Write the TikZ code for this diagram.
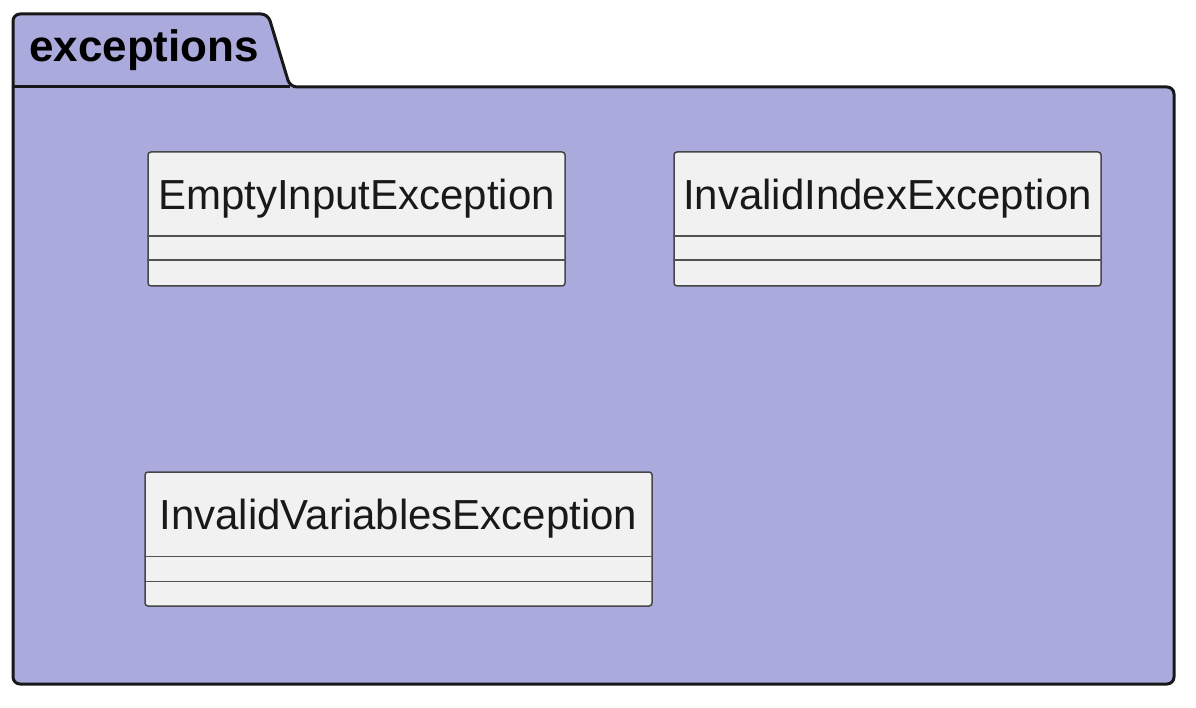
\documentclass[tikz,border=0pt]{standalone}
\usepackage{fontspec}
\setmainfont{Liberation Sans}
\usetikzlibrary{calc}
\definecolor{pkgfill}{RGB}{170,170,221}
\definecolor{classfill}{RGB}{241,241,241}
\definecolor{edge}{RGB}{24,24,24}
\tikzset{
  pkgline/.style={draw=edge, line width=3pt, line join=round},
  classbox/.style={draw=edge!80, fill=classfill, line width=1.5pt, rounded corners=3pt,
    rectangle, inner sep=0pt},
  classname/.style={font=\fontsize{42}{48}\selectfont, text=black!90, inner sep=0pt},
  sepline/.style={draw=edge!75, line width=1.5pt},
}
\begin{document}
\begin{tikzpicture}[x=1pt,y=-1pt]
\useasboundingbox (0,0) rectangle (1196,708);
% package outline with its tab
\path[pkgline, fill=pkgfill, rounded corners=7pt]
  (13,87) -- (13,14) -- (268,14) -- (290,87) -- (1174,87) -- (1174,684) -- (13,684) -- cycle;
\draw[pkgline] (13,87) -- (290,87);
\node[font=\bfseries\fontsize{44}{50}\selectfont, anchor=base west, inner sep=0pt] (pkgname) at (29,62) {exceptions};

% classes
\node[classbox, minimum width=417pt, minimum height=134pt] (c1) at (356.5,219) {};
\node[classname] (n1) at ($(c1.north)+(0,47)$) {EmptyInputException};
\draw[sepline] ($(c1.north west)+(0,85)$) -- ($(c1.north east)+(0,85)$);
\draw[sepline] ($(c1.north west)+(0,109)$) -- ($(c1.north east)+(0,109)$);

\node[classbox, minimum width=427pt, minimum height=134pt] (c2) at (887.5,219) {};
\node[classname] (n2) at ($(c2.north)+(0,47)$) {InvalidIndexException};
\draw[sepline] ($(c2.north west)+(0,85)$) -- ($(c2.north east)+(0,85)$);
\draw[sepline] ($(c2.north west)+(0,109)$) -- ($(c2.north east)+(0,109)$);

\node[classbox, minimum width=507pt, minimum height=134pt] (c3) at (398.5,539) {};
\node[classname] (n3) at ($(c3.north)+(0,47)$) {InvalidVariablesException};
\draw[sepline] ($(c3.north west)+(0,85)$) -- ($(c3.north east)+(0,85)$);
\draw[sepline] ($(c3.north west)+(0,110)$) -- ($(c3.north east)+(0,110)$);
\end{tikzpicture}
\end{document}
